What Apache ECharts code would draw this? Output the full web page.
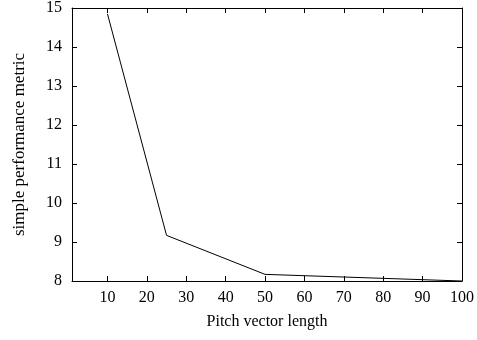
<!DOCTYPE html>
<html>
<head>
<meta charset="utf-8">
<script src="https://cdn.jsdelivr.net/npm/echarts@6/dist/echarts.min.js"></script>
<style>html,body{margin:0;padding:0;background:#fff}#c{width:477px;height:340px}</style>
</head>
<body>
<div id="c"></div>
<script>
var xValues = [10, 25, 50, 100];
var yValues = [14.85, 9.17, 8.17, 8.0];
var xTicks = [10, 20, 30, 40, 50, 60, 70, 80, 90, 100];
var yTicks = [8, 9, 10, 11, 12, 13, 14, 15];
var xTitle = 'Pitch vector length';
var yTitle = 'simple performance metric';

var font = 'Liberation Serif';
var chart = echarts.init(document.getElementById('c'), null, {renderer: 'canvas'});
var lineStyle = {color: '#000', width: 1};
function xAxisCfg(pos, show) {
  return {
    type: 'value', position: pos, min: 1, max: 100,
    name: show ? xTitle : '', nameLocation: 'middle', nameGap: 33,
    nameTextStyle: {fontFamily: font, fontSize: 16, color: '#000'},
    axisLine: {show: true, lineStyle: lineStyle},
    axisTick: {show: true, inside: true, length: 5, lineStyle: lineStyle, customValues: xTicks},
    axisLabel: {show: show, fontFamily: font, fontSize: 16, color: '#000', margin: 9, customValues: xTicks},
    splitLine: {show: false}
  };
}
function yAxisCfg(pos, show) {
  return {
    type: 'value', position: pos, min: 8, max: 15,
    name: show ? yTitle : '', nameLocation: 'middle', nameGap: 44,
    nameTextStyle: {fontFamily: font, fontSize: 17, color: '#000'},
    axisLine: {show: true, lineStyle: lineStyle},
    axisTick: {show: true, inside: true, length: 5, lineStyle: lineStyle, customValues: yTicks},
    axisLabel: {show: show, fontFamily: font, fontSize: 16, color: '#000', margin: 10, customValues: yTicks},
    splitLine: {show: false}
  };
}
var data = xValues.map(function (x, i) { return [x, yValues[i]]; });
chart.setOption({
  animation: false,
  grid: {left: 72, right: 15, top: 6, bottom: 59},
  xAxis: [xAxisCfg('bottom', true), xAxisCfg('top', false)],
  yAxis: [yAxisCfg('left', true), yAxisCfg('right', false)],
  series: [{
    type: 'line', data: data, xAxisIndex: 0, yAxisIndex: 0,
    showSymbol: false, symbol: 'none',
    lineStyle: {color: '#000', width: 1}
  }]
});
</script>
</body>
</html>
